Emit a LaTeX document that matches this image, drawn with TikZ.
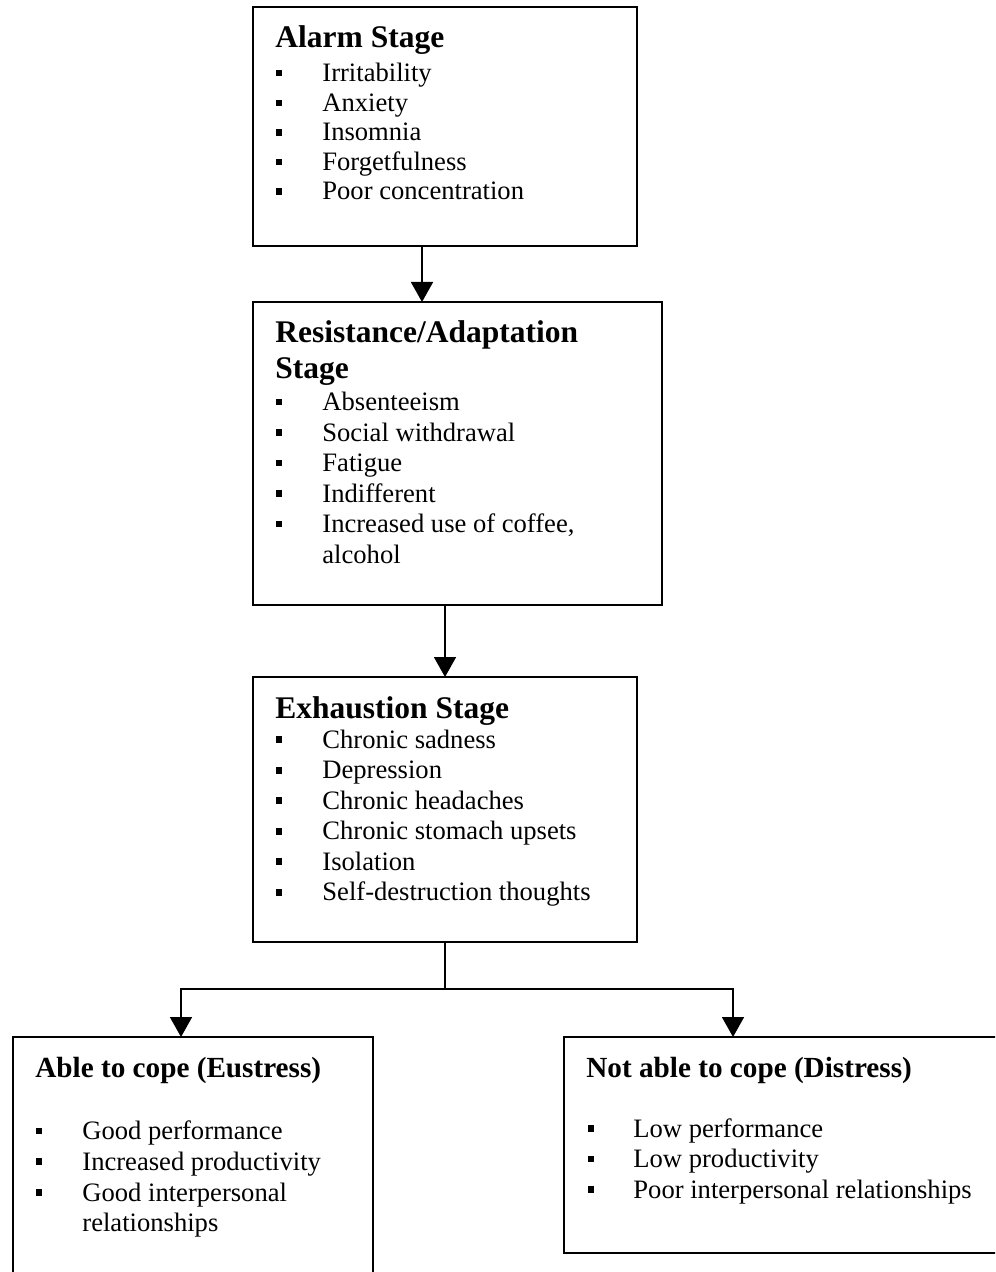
\documentclass[tikz,border=0pt]{standalone}
\usepackage{fontspec}
\setmainfont{Liberation Serif}
\usetikzlibrary{arrows.meta}
\tikzset{
  stagebox/.style={draw=black, line width=0.9pt, rectangle, inner sep=0pt, outer sep=0pt, anchor=north west},
  arr/.style={line width=0.85pt, -{Triangle[width=11pt,length=10pt]}},
  conn/.style={line width=0.85pt},
  ttl/.style={anchor=base west, inner sep=0pt, font=\bfseries\fontsize{15.75pt}{18pt}\selectfont},
  ttlsmall/.style={anchor=base west, inner sep=0pt, font=\bfseries\fontsize{14.6pt}{17pt}\selectfont},
  itm/.style={anchor=base west, inner sep=0pt, font=\fontsize{13.3pt}{15.25pt}\selectfont},
  bul/.style={fill=black, draw=none, rectangle, minimum size=3.4pt, inner sep=0pt},
}
\begin{document}
\begin{tikzpicture}[x=0.5pt, y=-0.5pt]
\useasboundingbox (0,0) rectangle (995,1272);
\clip (0,0) rectangle (995,1272);

% boxes
\node[stagebox, minimum width=192pt, minimum height=119.5pt] (alarm) at (253,7) {};
\node[stagebox, minimum width=204.5pt, minimum height=151.5pt] (res) at (253,302) {};
\node[stagebox, minimum width=192pt, minimum height=132.5pt] (exh) at (253,677) {};
\node[stagebox, minimum width=180pt, minimum height=131.5pt] (eus) at (13,1037) {};
\node[stagebox, minimum width=223pt, minimum height=108pt] (dis) at (564,1037) {};

% Alarm stage text
\node[ttl] (alarmT) at (275,48) {Alarm Stage};
\node[bul] (ab1) at (279,73) {}; \node[itm] (a1) at (322,81.5) {Irritability};
\node[bul] (ab2) at (279,103) {}; \node[itm] (a2) at (322,111.5) {Anxiety};
\node[bul] (ab3) at (279,132.5) {}; \node[itm] (a3) at (322,141) {Insomnia};
\node[bul] (ab4) at (279,162) {}; \node[itm] (a4) at (322,170.5) {Forgetfulness};
\node[bul] (ab5) at (279,191.5) {}; \node[itm] (a5) at (322,200) {Poor concentration};

% Resistance stage text
\node[ttl] (resT1) at (275,343) {Resistance/Adaptation};
\node[ttl] (resT2) at (275,379) {Stage};
\node[bul] (rb1) at (279,402) {}; \node[itm] (r1) at (322,410.5) {Absenteeism};
\node[bul] (rb2) at (279,432.5) {}; \node[itm] (r2) at (322,441) {Social withdrawal};
\node[bul] (rb3) at (279,463) {}; \node[itm] (r3) at (322,471.5) {Fatigue};
\node[bul] (rb4) at (279,493.5) {}; \node[itm] (r4) at (322,502) {Indifferent};
\node[bul] (rb5) at (279,524) {}; \node[itm] (r5) at (322,532.5) {Increased use of coffee,};
\node[itm] (r6) at (322,563) {alcohol};

% Exhaustion stage text
\node[ttl] (exhT) at (275,718) {Exhaustion Stage};
\node[bul] (eb1) at (279,739.8) {}; \node[itm] (e1) at (322,748.3) {Chronic sadness};
\node[bul] (eb2) at (279,770.3) {}; \node[itm] (e2) at (322,778.8) {Depression};
\node[bul] (eb3) at (279,800.8) {}; \node[itm] (e3) at (322,809.3) {Chronic headaches};
\node[bul] (eb4) at (279,831.3) {}; \node[itm] (e4) at (322,839.8) {Chronic stomach upsets};
\node[bul] (eb5) at (279,861.8) {}; \node[itm] (e5) at (322,870.3) {Isolation};
\node[bul] (eb6) at (279,892.3) {}; \node[itm] (e6) at (322,900.8) {Self-destruction thoughts};

% Eustress text
\node[ttlsmall] (eusT) at (35,1077) {Able to cope (Eustress)};
\node[bul] (ub1) at (39,1131) {}; \node[itm] (u1) at (82,1139.5) {Good performance};
\node[bul] (ub2) at (39,1161.5) {}; \node[itm] (u2) at (82,1170) {Increased productivity};
\node[bul] (ub3) at (39,1192.5) {}; \node[itm] (u3) at (82,1201) {Good interpersonal};
\node[itm] (u4) at (82,1231.5) {relationships};

% Distress text
\node[ttlsmall] (disT) at (586,1077) {Not able to cope (Distress)};
\node[bul] (db1) at (591,1128.5) {}; \node[itm] (d1) at (633,1137) {Low performance};
\node[bul] (db2) at (591,1159) {}; \node[itm] (d2) at (633,1167.5) {Low productivity};
\node[bul] (db3) at (591,1189.5) {}; \node[itm] (d3) at (633,1198) {Poor interpersonal relationships};

% connectors
\coordinate (c1) at (422,0);
\coordinate (cl) at (181,0);
\coordinate (cr) at (733,0);
\coordinate (fork) at (445,989);
\draw[arr] (alarm.south -| c1) -- (res.north -| c1);
\draw[arr] (res.south -| exh.north) -- (exh.north);
\draw[conn] (exh.south) -- (fork);
\draw[arr] (fork) -| (eus.north -| cl);
\draw[arr] (fork) -| (dis.north -| cr);
\end{tikzpicture}
\end{document}
